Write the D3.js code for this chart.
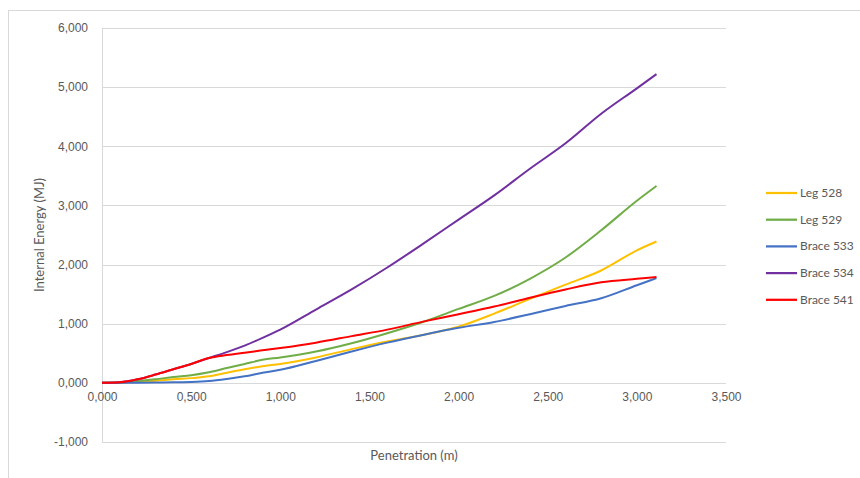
<!DOCTYPE html>
<html>
<head>
<meta charset="utf-8">
<script src="https://cdn.jsdelivr.net/npm/d3@7"></script>
<style>
  body { margin: 0; background: #fff; }
  svg { display: block; font-family: Lato, "Open Sans", sans-serif; }
</style>
</head>
<body>
<svg id="chart" width="860" height="478"></svg>
<script>
// penetration (m) where the curves were read
var penetration = [0, 0.1, 0.2, 0.3, 0.4, 0.5, 0.6, 0.7, 0.8, 0.9, 1.0, 1.2, 1.4, 1.6, 1.8, 2.0, 2.2, 2.4, 2.6, 2.8, 3.0, 3.11];

var seriesNames = ["Leg 528", "Leg 529", "Brace 533", "Brace 534", "Brace 541"];
var seriesColors = ["#FFC000", "#70AD47", "#4472C4", "#7030A0", "#FF0000"];

// internal energy (MJ)
var leg528   = [0, 0.002, 0.015, 0.035, 0.06, 0.08, 0.11, 0.17, 0.23, 0.28, 0.32, 0.43, 0.57, 0.70, 0.81, 0.95, 1.17, 1.42, 1.66, 1.90, 2.24, 2.39];
var leg529   = [0, 0.005, 0.03, 0.06, 0.10, 0.13, 0.18, 0.25, 0.32, 0.39, 0.43, 0.53, 0.67, 0.84, 1.03, 1.25, 1.47, 1.76, 2.12, 2.58, 3.08, 3.33];
var brace533 = [0, 0, 0.002, 0.005, 0.01, 0.015, 0.03, 0.065, 0.11, 0.17, 0.22, 0.37, 0.53, 0.68, 0.81, 0.93, 1.03, 1.16, 1.30, 1.43, 1.65, 1.77];
var brace534 = [0, 0.01, 0.06, 0.14, 0.23, 0.32, 0.42, 0.52, 0.63, 0.76, 0.90, 1.24, 1.58, 1.95, 2.35, 2.76, 3.17, 3.62, 4.05, 4.55, 4.98, 5.22];
var brace541 = [0, 0.01, 0.06, 0.14, 0.23, 0.32, 0.42, 0.47, 0.51, 0.55, 0.59, 0.68, 0.79, 0.90, 1.035, 1.16, 1.29, 1.44, 1.58, 1.70, 1.76, 1.79];

var xTicks = [0, 0.5, 1, 1.5, 2, 2.5, 3, 3.5];
var yTicks = [-1, 0, 1, 2, 3, 4, 5, 6];

var allValues = [leg528, leg529, brace533, brace534, brace541];

var svg = d3.select("#chart");

// outer chart frame
svg.append("rect")
    .attr("x", 8.5).attr("y", 10.5)
    .attr("width", 900).attr("height", 500)
    .attr("fill", "none")
    .attr("stroke", "#d9d9d9");

var margin = {top: 28, left: 102};
var width = 624, height = 414;

var x = d3.scaleLinear().domain([0, 3.5]).range([0, width]);
var y = d3.scaleLinear().domain([-1, 6]).range([height, 0]);

// decimal comma like the original
var fmt = d3.formatLocale({decimal: ",", thousands: ".", grouping: [3], currency: ["", ""], minus: "-"}).format(".3f");

var g = svg.append("g")
    .attr("transform", "translate(" + margin.left + "," + margin.top + ")");

// gridlines
g.selectAll(".grid")
    .data(yTicks)
    .enter()
    .append("line")
    .attr("class", "grid")
    .attr("x1", 0).attr("x2", width)
    .attr("y1", function(d){ return Math.round(y(d)) + 0.5; })
    .attr("y2", function(d){ return Math.round(y(d)) + 0.5; })
    .attr("stroke", "#d9d9d9");

g.append("line")
    .attr("x1", 0.5).attr("x2", 0.5)
    .attr("y1", 0).attr("y2", height)
    .attr("stroke", "#d9d9d9");

// y axis labels
var yAxis = d3.axisLeft(y).tickValues(yTicks).tickFormat(fmt).tickSize(0).tickPadding(14);
g.append("g").call(yAxis)
    .call(function(a){ a.select(".domain").remove(); })
    .selectAll("text")
    .attr("fill", "#595959")
    .style("font-size", "12px");

// x axis labels hang below the zero line
var xAxis = d3.axisBottom(x).tickValues(xTicks).tickFormat(fmt).tickSize(0).tickPadding(10);
g.append("g")
    .attr("transform", "translate(0," + y(0) + ")")
    .call(xAxis)
    .call(function(a){ a.select(".domain").remove(); })
    .selectAll("text")
    .attr("fill", "#595959")
    .style("font-size", "12px");

// axis titles
svg.append("text")
    .attr("x", margin.left + width / 2)
    .attr("y", 460)
    .attr("text-anchor", "middle")
    .attr("fill", "#595959")
    .style("font-size", "13px")
    .text("Penetration (m)");

svg.append("text")
    .attr("transform", "translate(44," + (margin.top + height / 2) + ") rotate(-90)")
    .attr("text-anchor", "middle")
    .attr("fill", "#595959")
    .style("font-size", "13px")
    .text("Internal Energy (MJ)");

// lines
var line = d3.line()
    .x(function(d){ return x(d[0]); })
    .y(function(d){ return y(d[1]); })
    .curve(d3.curveMonotoneX);

allValues.forEach(function(vals, i){
    var pts = penetration.map(function(p, j){ return [p, vals[j]]; });
    g.append("path")
        .datum(pts)
        .attr("d", line)
        .attr("fill", "none")
        .attr("stroke", seriesColors[i])
        .attr("stroke-width", 2)
        .attr("stroke-linejoin", "round");
});

// legend
var legend = svg.selectAll(".legend")
    .data(seriesNames)
    .enter()
    .append("g")
    .attr("class", "legend")
    .attr("transform", function(d, i){ return "translate(766," + (193 + i * 26.7) + ")"; });

legend.append("line")
    .attr("x1", 0).attr("x2", 31)
    .attr("stroke", function(d, i){ return seriesColors[i]; })
    .attr("stroke-width", 2.25);

legend.append("text")
    .attr("x", 34)
    .attr("y", 4)
    .attr("fill", "#595959")
    .style("font-size", "12px")
    .text(function(d){ return d; });
</script>
</body>
</html>
